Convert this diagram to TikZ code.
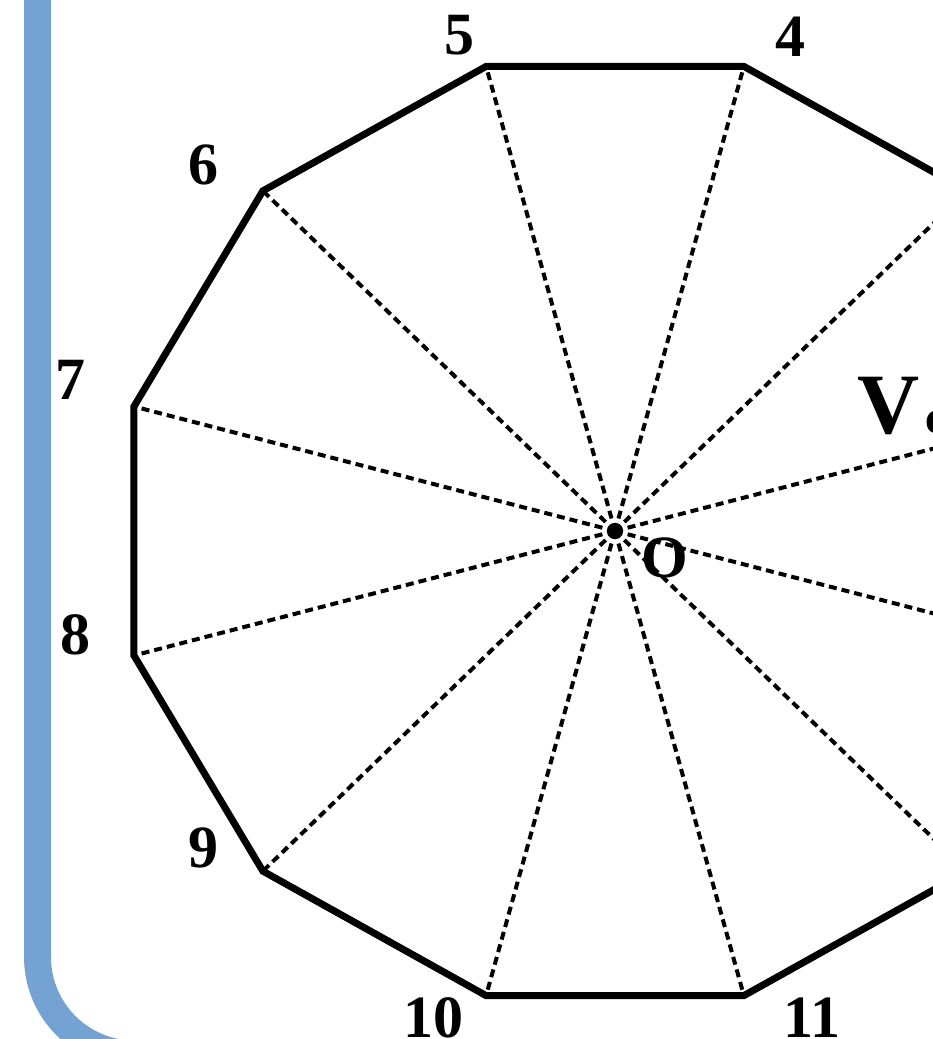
\documentclass[tikz,border=0pt]{standalone}
\usepackage{fontspec}
\setmainfont{Liberation Serif}
\usetikzlibrary{positioning,calc}
\definecolor{frameblue}{HTML}{74A2D2}

\begin{document}
\begin{tikzpicture}[x=1pt,y=-1pt,
  edge/.style={line width=7pt,line join=miter},
  spoke/.style={line width=4pt,dash pattern=on 8pt off 5pt},
  num/.style={inner sep=0pt,font=\fontsize{60}{60}\selectfont\bfseries}]
\useasboundingbox (0,0) rectangle (933,1039);
\clip (0,0) rectangle (933,1039);
% frame
\draw[frameblue,line width=27pt,rounded corners=97pt] (37.5,-40) -- (37.5,1054) -- (1000,1054);
% dodecagon
\coordinate (O) at (615,531);
\foreach \k in {1,...,12}
  \coordinate (v\k) at ($(O)+({498*cos(30*\k-45)},{-481*sin(30*\k-45)})$);
\foreach \k in {1,...,12}
  \draw[spoke] (O) -- (v\k);
\draw[edge] (v1) \foreach \k in {2,...,12}{ -- (v\k)} -- cycle;
% labels
\node[num] (l4) at (790,37) {4};
\node[num] (l5) at (459,35) {5};
\node[num] (l6) at (203,165) {6};
\node[num] (l7) at (70,380) {7};
\node[num] (l8) at (75,635) {8};
\node[num] (l9) at (203,848) {9};
\node[num] (l10) at (433,1018) {10};
\node[num] (l11) at (812,1018) {11};
\node[num,anchor=center] (lO) at (665,558) {O};
\node[inner sep=0pt,anchor=base west,font=\fontsize{86}{86}\selectfont\bfseries] (lV) at (857,433) {V\hspace{6pt}{\fontsize{48}{48}\selectfont c}};
\end{tikzpicture}
\end{document}
